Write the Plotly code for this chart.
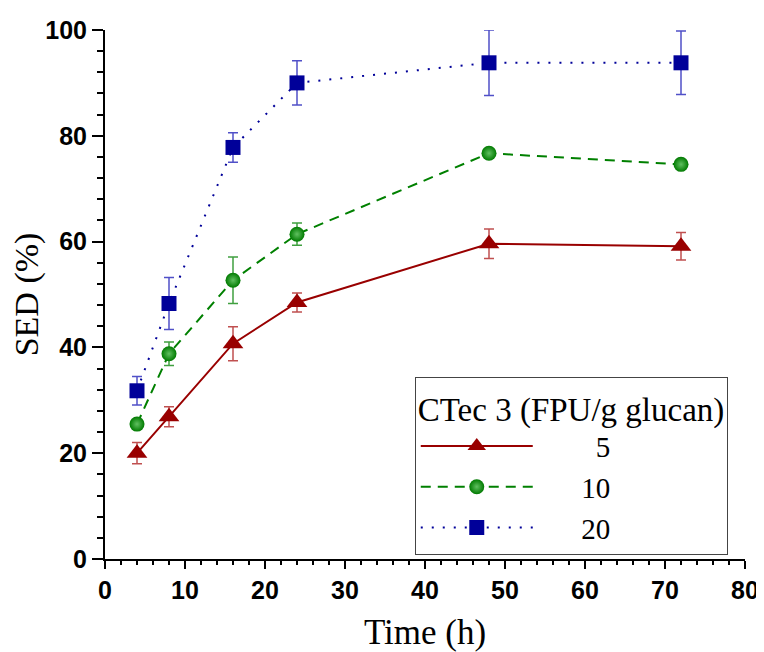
import plotly.graph_objects as go

time_h = [4, 8, 16, 24, 48, 72]
series_names = ["5", "10", "20"]
sed_5 = [20.0, 26.9, 40.7, 48.5, 59.6, 59.1]
err_5 = [2.0, 1.9, 3.2, 1.8, 2.8, 2.6]
sed_10 = [25.5, 38.8, 52.7, 61.4, 76.7, 74.6]
err_10 = [0.8, 2.2, 4.4, 2.1, 0.8, 0.8]
sed_20 = [31.8, 48.3, 77.8, 90.0, 93.8, 93.8]
err_20 = [2.7, 4.9, 2.8, 4.2, 6.2, 6.0]

serif = "Liberation Serif, Times New Roman, serif"
sans = "Liberation Sans, Arial, sans-serif"

pad = "\u2003\u2002"

fig = go.Figure()

fig.add_trace(go.Scatter(
    x=time_h, y=sed_5, name=pad + "\u2007" + series_names[0], mode="lines+markers",
    line=dict(color="#990000", width=2, dash="solid"),
    marker=dict(symbol="triangle-up", size=18, color="#990000"),
    error_y=dict(type="data", array=err_5, visible=True, color="#c05050",
                 thickness=1.5, width=5),
))
fig.add_trace(go.Scatter(
    x=time_h, y=sed_10, name=pad + series_names[1], mode="lines+markers",
    line=dict(color="#008000", width=2, dash="10px,7px"),
    marker=dict(symbol="circle", size=15, color="#007a00",
                gradient=dict(type="radial", color="#60c060")),
    error_y=dict(type="data", array=err_10, visible=True, color="#40a040",
                 thickness=1.5, width=5),
))
fig.add_trace(go.Scatter(
    x=time_h, y=sed_20, name=pad + series_names[2], mode="lines+markers",
    line=dict(color="#000099", width=2, dash="2px,9px"),
    marker=dict(symbol="square", size=15, color="#000099"),
    error_y=dict(type="data", array=err_20, visible=True, color="#5050c8",
                 thickness=1.5, width=5),
))

fig.update_layout(
    width=756, height=644,
    margin=dict(l=97, r=19, t=22, b=93, autoexpand=False),
    paper_bgcolor="white", plot_bgcolor="white",
    showlegend=True,
    legend=dict(
        x=0.484, y=0.008, xanchor="left", yanchor="bottom",
        bordercolor="#444", borderwidth=1, bgcolor="white",
        title=dict(text="CTec 3 (FPU/g glucan)", font=dict(family=serif, size=33, color="black")),
        font=dict(family=serif, size=29, color="black"),
        itemwidth=112, tracegroupgap=0,
    ),
    xaxis=dict(
        range=[0, 80], dtick=10, tick0=0, automargin=False,
        showline=True, linecolor="black", linewidth=2,
        showgrid=False, zeroline=False,
        ticks="outside", ticklen=8, tickwidth=2, tickcolor="black",
        minor=dict(dtick=2, ticks="outside", ticklen=4, tickwidth=1.5, tickcolor="black"),
        tickfont=dict(family=sans, size=25, color="black", weight="bold"),
        title=dict(text="Time (h)", font=dict(family=serif, size=35, color="black"), standoff=16),
    ),
    yaxis=dict(
        range=[0, 100], dtick=20, tick0=0, automargin=False,
        showline=True, linecolor="black", linewidth=2,
        showgrid=False, zeroline=False,
        ticks="outside", ticklen=11, tickwidth=2, tickcolor="black",
        minor=dict(dtick=4, ticks="outside", ticklen=6, tickwidth=1.5, tickcolor="black"),
        tickfont=dict(family=sans, size=25, color="black", weight="bold"),
        title=dict(text="SED (%)", font=dict(family=serif, size=34, color="black"), standoff=2),
    ),
)

fig.write_html("out.html")
